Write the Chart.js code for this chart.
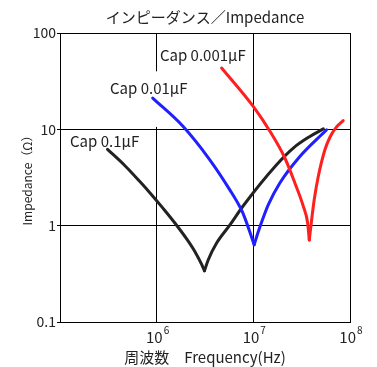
<!DOCTYPE html>
<html>
<head>
<meta charset="utf-8">
<script src="https://cdn.jsdelivr.net/npm/chart.js@4"></script>
<style>
  html, body { margin: 0; padding: 0; background: #fff; }
  #wrap { width: 377px; height: 367px; }
</style>
</head>
<body>
<div id="wrap"><canvas id="impChart"></canvas></div>
<script>
// values (Hz, ohm)
const freq01 = [3.1e5, 4.7e5, 6.7e5, 8.5e5, 1.16e6, 1.55e6, 2.06e6, 2.49e6, 2.92e6, 3.12e6, 3.42e6, 4.17e6, 5.73e6, 7.87e6, 1.74e7, 2.59e7, 3.85e7, 5.3e7];
const imp01  = [6.2, 4.19, 2.87, 2.2, 1.52, 1.06, 0.72, 0.537, 0.396, 0.34, 0.443, 0.66, 1.02, 1.61, 4.29, 6.39, 8.44, 10.1];

const freq001 = [9.1e5, 1.88e6, 3.56e6, 5.73e6, 7.6e6, 8.2e6, 9.6e6, 1.02e7, 1.12e7, 1.27e7, 1.43e7, 1.88e7, 3.03e7, 5.73e7];
const imp001  = [21.1, 10.7, 4.8, 2.34, 1.43, 1.19, 0.758, 0.634, 0.853, 1.22, 1.65, 2.77, 5.23, 9.9];

const freq0001 = [4.7e6, 9.97e6, 1.49e7, 2.12e7, 2.69e7, 3.28e7, 3.65e7, 3.79e7, 4.01e7, 4.27e7, 4.69e7, 5.5e7, 6.2e7, 7.1e7, 8.5e7];
const imp0001  = [43.3, 17.3, 9.5, 5.04, 2.77, 1.6, 1.06, 0.71, 1.15, 1.88, 3.22, 6.14, 8.28, 10.3, 12.3];

const seriesNames = ["Cap 0.1μF", "Cap 0.01μF", "Cap 0.001μF"];
const seriesColors = ["#222222", "#1f1fff", "#ff1f1f"];
const xTicks = [1e6, 1e7, 1e8];
const xExponents = ["6", "7", "8"];
const yTicks = [0.1, 1, 10, 100];
const yTickLabels = ["0.1", "1", "10", "100"];

const FONT = "'Noto Sans CJK JP', 'Noto Sans', sans-serif";

// split a curve at its resonance dip so the cusp stays sharp
function branches(xs, ys) {
  const pts = xs.map((x, i) => ({ x: x, y: ys[i] }));
  let k = 0;
  ys.forEach((v, i) => { if (v < ys[k]) k = i; });
  return [pts.slice(0, k + 1), pts.slice(k)];
}

const allSeries = [[freq01, imp01], [freq001, imp001], [freq0001, imp0001]];
const datasets = [];
allSeries.forEach((s, i) => {
  branches(s[0], s[1]).forEach(part => {
    datasets.push({
      label: seriesNames[i],
      data: part,
      borderColor: seriesColors[i],
      order: 3 - i
    });
  });
});

// labels next to each curve + white box behind the middle one
const curveLabels = {
  id: "curveLabels",
  beforeDatasetsDraw(chart) {
    const ctx = chart.ctx;
    const xs = chart.scales.x;
    const ys = chart.scales.y;
    ctx.save();
    // white box that hides part of the 10^6 grid line
    const bx1 = xs.getPixelForValue(3.2e5), bx2 = xs.getPixelForValue(1.5e6);
    const by1 = ys.getPixelForValue(40), by2 = ys.getPixelForValue(10.6);
    ctx.fillStyle = "#fff";
    ctx.fillRect(bx1, by1, bx2 - bx1, by2 - by1);

    ctx.fillStyle = "#222";
    ctx.font = "15px " + FONT;
    ctx.textBaseline = "middle";
    ctx.textAlign = "left";
    const spots = [[1.27e5, 7.6], [3.29e5, 26.4], [1.08e6, 58.5]];
    spots.forEach((s, i) => {
      ctx.fillText(seriesNames[i], xs.getPixelForValue(s[0]), ys.getPixelForValue(s[1]));
    });
    ctx.restore();
  }
};

// x tick labels with superscript exponents
const powerTicks = {
  id: "powerTicks",
  afterDraw(chart) {
    const ctx = chart.ctx;
    const xs = chart.scales.x;
    const base = chart.chartArea.bottom;
    ctx.save();
    ctx.fillStyle = "#222";
    ctx.textBaseline = "alphabetic";
    xTicks.forEach((v, i) => {
      const px = xs.getPixelForValue(v);
      ctx.font = "15px " + FONT;
      ctx.textAlign = "right";
      ctx.fillText("10", px + 6, base + 21);
      ctx.font = "10px " + FONT;
      ctx.textAlign = "left";
      ctx.fillText(xExponents[i], px + 7, base + 12);
    });
    ctx.restore();
  }
};

const ctx = document.getElementById("impChart").getContext("2d");
new Chart(ctx, {
  type: "line",
  data: { datasets: datasets },
  options: {
    responsive: true,
    maintainAspectRatio: false,
    animation: false,
    layout: { padding: { left: 0, right: 27, top: 0, bottom: 0 } },
    elements: {
      point: { radius: 0 },
      line: {
        borderWidth: 3,
        cubicInterpolationMode: "monotone",
        borderJoinStyle: "round",
        borderCapStyle: "round",
        fill: false
      }
    },
    plugins: {
      legend: { display: false },
      tooltip: { enabled: false },
      title: {
        display: true,
        fullSize: false,
        text: "インピーダンス／Impedance",
        color: "#222",
        font: { family: FONT, size: 15, weight: "normal" },
        padding: { top: 8, bottom: 7 }
      }
    },
    scales: {
      x: {
        type: "logarithmic",
        min: 1e5,
        max: 1e8,
        afterBuildTicks(scale) {
          scale.ticks = xTicks.map(v => ({ value: v }));
        },
        afterFit(scale) { scale.height = 45; },
        ticks: { callback: () => "", font: { family: FONT, size: 14 } },
        grid: { color: "#000", lineWidth: 1, drawTicks: false },
        border: { color: "#000", width: 1 },
        title: {
          display: true,
          text: "周波数　Frequency(Hz)",
          color: "#222",
          font: { family: FONT, size: 15 },
          padding: { top: 0, bottom: 1 }
        }
      },
      y: {
        type: "logarithmic",
        min: 0.1,
        max: 100,
        afterBuildTicks(scale) {
          scale.ticks = yTicks.map(v => ({ value: v }));
        },
        afterFit(scale) { scale.width = 60; },
        ticks: {
          color: "#222",
          padding: 1,
          font: { family: FONT, size: 14 },
          callback: (v, i) => yTickLabels[i]
        },
        grid: { color: "#000", lineWidth: 1, tickLength: 3 },
        border: { color: "#000", width: 1 },
        title: {
          display: true,
          text: "Impedance（Ω）",
          color: "#222",
          font: { family: FONT, size: 12 },
          padding: { top: 20, bottom: 0 }
        }
      }
    }
  },
  plugins: [curveLabels, powerTicks]
});
</script>
</body>
</html>
